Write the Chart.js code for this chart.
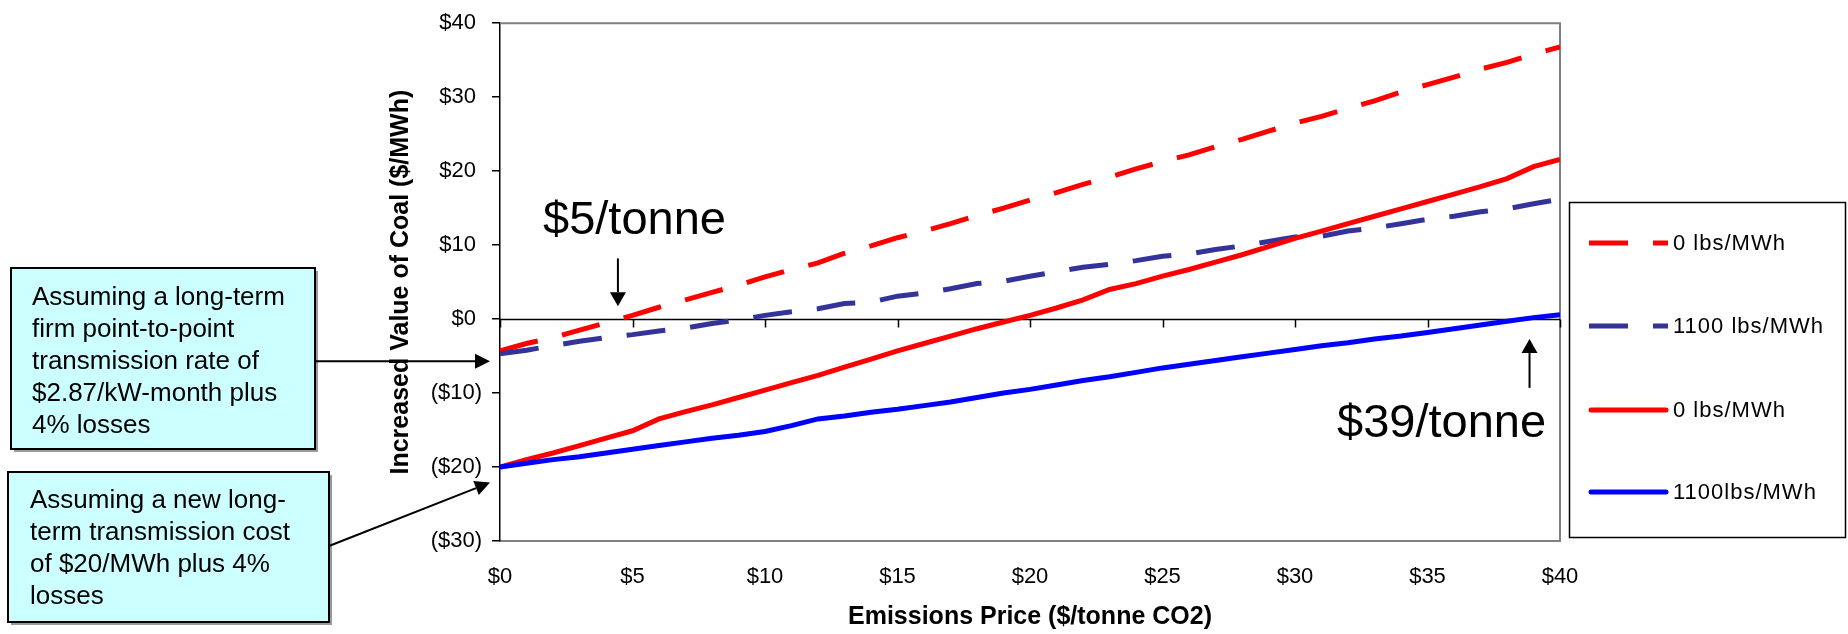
<!DOCTYPE html>
<html>
<head>
<meta charset="utf-8">
<script src="https://cdn.jsdelivr.net/npm/chart.js@4.4.1/dist/chart.umd.min.js"></script>
<style>
  html, body { margin: 0; padding: 0; background: #fff; }
  #wrap { width: 1848px; height: 634px; position: relative; }
</style>
</head>
<body>
<div id="wrap"><canvas id="chart"></canvas></div>
<script>
// emissions price ($/tonne CO2)
const prices = [0, 1, 2, 3, 4, 5, 6, 7, 8, 9, 10, 11, 12, 13, 14, 15, 16, 17, 18, 19, 20,
                21, 22, 23, 24, 25, 26, 27, 28, 29, 30, 31, 32, 33, 34, 35, 36, 37, 38, 39, 40];

// increased value of coal ($/MWh)
const redDashed = [-4.3, -3.3, -2.5, -1.5, -0.5, 0.5, 1.6, 2.6, 3.6, 4.6, 5.7, 6.7, 7.6, 8.9, 9.9, 11.0,
                   11.9, 12.9, 14.0, 15.0, 16.1, 17.1, 18.2, 19.2, 20.3, 21.3, 22.2, 23.3, 24.3, 25.4,
                   26.5, 27.4, 28.5, 29.5, 30.7, 31.7, 32.7, 33.8, 34.7, 35.8, 36.8];
const blueDashed = [-4.7, -4.2, -3.6, -3.0, -2.5, -2.1, -1.6, -1.2, -0.6, -0.1, 0.5, 1.0, 1.4, 2.1, 2.3, 3.1,
                    3.5, 4.1, 4.8, 5.1, 5.8, 6.4, 7.0, 7.4, 7.9, 8.5, 8.8, 9.4, 9.9, 10.5,
                    11.1, 11.2, 11.9, 12.3, 12.9, 13.5, 13.9, 14.5, 14.9, 15.6, 16.2];
const redSolid = [-20, -19.0, -18.1, -17.1, -16.1, -15.1, -13.5, -12.5, -11.6, -10.6, -9.6, -8.6, -7.6, -6.5,
                  -5.4, -4.3, -3.3, -2.3, -1.3, -0.4, 0.5, 1.5, 2.6, 4.0, 4.8, 5.8, 6.7, 7.7, 8.7, 9.8,
                  10.9, 11.9, 12.9, 13.9, 14.9, 15.9, 16.9, 17.9, 19.0, 20.6, 21.6];
const blueSolid = [-20, -19.5, -19.0, -18.6, -18.1, -17.6, -17.1, -16.6, -16.1, -15.7, -15.2, -14.4, -13.5,
                   -13.1, -12.6, -12.2, -11.7, -11.2, -10.6, -10.0, -9.5, -8.9, -8.3, -7.8, -7.2, -6.6,
                   -6.1, -5.6, -5.1, -4.6, -4.1, -3.6, -3.2, -2.7, -2.3, -1.8, -1.3, -0.8, -0.3, 0.2, 0.6];

const seriesNames = ['0 lbs/MWh', '1100 lbs/MWh', '0 lbs/MWh', '1100lbs/MWh'];

const FONT = '"Liberation Sans", Arial, sans-serif';
Chart.defaults.font.family = FONT;
Chart.defaults.color = '#000';

function points(values) {
    return prices.map((p, i) => ({ x: p, y: values[i] }));
}

function moneyLabel(v) {
    if (v < 0) return '($' + (-v) + ')';
    return '$' + v + ' ';
}

// frame, zero axis line with its tick marks
const framePlugin = {
    id: 'frame',
    beforeDatasetsDraw(chart) {
        const { ctx, chartArea: a, scales: { x, y } } = chart;
        ctx.save();
        ctx.strokeStyle = '#808080';
        ctx.lineWidth = 2;
        ctx.beginPath();
        ctx.moveTo(a.left, a.top);
        ctx.lineTo(a.right, a.top);
        ctx.lineTo(a.right, a.bottom);
        ctx.stroke();

        const y0 = Math.round(y.getPixelForValue(0)) + 0.5;
        ctx.strokeStyle = '#000';
        ctx.lineWidth = 1.5;
        ctx.beginPath();
        ctx.moveTo(a.left, y0);
        ctx.lineTo(a.right, y0);
        x.ticks.forEach(t => {
            const px = Math.round(x.getPixelForValue(t.value)) + 0.5;
            ctx.moveTo(px, y0);
            ctx.lineTo(px, y0 + 8);
        });
        ctx.stroke();
        ctx.restore();
    }
};

function arrow(ctx, x1, y1, x2, y2, len, half) {
    const ang = Math.atan2(y2 - y1, x2 - x1);
    const bx = x2 - len * Math.cos(ang), by = y2 - len * Math.sin(ang);
    ctx.beginPath();
    ctx.moveTo(x1, y1);
    ctx.lineTo(bx, by);
    ctx.lineWidth = 2;
    ctx.stroke();
    ctx.beginPath();
    ctx.moveTo(x2, y2);
    ctx.lineTo(bx + half * Math.sin(ang), by - half * Math.cos(ang));
    ctx.lineTo(bx - half * Math.sin(ang), by + half * Math.cos(ang));
    ctx.closePath();
    ctx.fill();
}

function noteBox(ctx, left, top, right, bottom, lines, textX, firstBase) {
    ctx.fillStyle = '#9a9a9a';
    ctx.fillRect(left + 3, top + 3, right - left, bottom - top);
    ctx.fillStyle = '#CCFFFF';
    ctx.fillRect(left, top, right - left, bottom - top);
    ctx.strokeStyle = '#000';
    ctx.lineWidth = 2;
    ctx.strokeRect(left, top, right - left, bottom - top);
    ctx.fillStyle = '#000';
    ctx.font = '26px ' + FONT;
    ctx.textAlign = 'left';
    ctx.textBaseline = 'alphabetic';
    lines.forEach((l, i) => ctx.fillText(l, textX, firstBase + i * 32));
}

// notes, arrows and legend
const notesPlugin = {
    id: 'notes',
    afterDraw(chart) {
        const { ctx, scales: { x, y } } = chart;
        ctx.save();
        ctx.strokeStyle = '#000';
        ctx.fillStyle = '#000';

        noteBox(ctx, 11, 268, 315, 449,
            ['Assuming a long-term', 'firm point-to-point', 'transmission rate of',
             '$2.87/kW-month plus', '4% losses'], 32, 305);
        noteBox(ctx, 8, 472, 329, 622,
            ['Assuming a new long-', 'term transmission cost', 'of $20/MWh plus 4%', 'losses'], 30, 508);

        ctx.fillStyle = '#000';
        ctx.strokeStyle = '#000';
        const tipX = x.getPixelForValue(0) - 10;
        arrow(ctx, 315, y.getPixelForValue(-5.7), tipX, y.getPixelForValue(-5.7), 15, 7.5);
        arrow(ctx, 329, 546, tipX, y.getPixelForValue(-22.1), 15, 7.5);

        const a5 = x.getPixelForValue(4.45);
        arrow(ctx, a5, y.getPixelForValue(8.2), a5, y.getPixelForValue(1.75), 14, 8);
        const a39 = x.getPixelForValue(38.85);
        arrow(ctx, a39, y.getPixelForValue(-9.3), a39, y.getPixelForValue(-2.7), 14, 8);

        ctx.font = '47px ' + FONT;
        ctx.textAlign = 'left';
        ctx.textBaseline = 'alphabetic';
        ctx.fillText('$5/tonne', 543, 234);
        ctx.fillText('$39/tonne', 1337, 437);

        // legend
        ctx.strokeStyle = '#000';
        ctx.lineWidth = 1.5;
        ctx.strokeRect(1569.5, 202.5, 276, 335);
        const rows = [243, 326, 410, 492];
        chart.data.datasets.forEach((ds, i) => {
            const ly = rows[i];
            ctx.save();
            ctx.strokeStyle = ds.borderColor;
            ctx.lineWidth = 5;
            ctx.setLineDash(ds.borderDash || []);
            ctx.lineCap = ds.borderDash ? 'butt' : 'round';
            ctx.beginPath();
            ctx.moveTo(ds.borderDash ? 1589 : 1591, ly);
            ctx.lineTo(ds.borderDash ? 1668 : 1666, ly);
            ctx.stroke();
            ctx.restore();
            ctx.fillStyle = '#000';
            ctx.font = '22px ' + FONT;
            ctx.letterSpacing = '1px';
            ctx.textBaseline = 'middle';
            ctx.fillText(seriesNames[i], 1673, ly + 1);
            ctx.letterSpacing = '0px';
        });
        ctx.restore();
    }
};

const lineStyle = { borderWidth: 5, pointRadius: 0, tension: 0, fill: false, borderCapStyle: 'butt' };

new Chart(document.getElementById('chart'), {
    type: 'line',
    data: {
        datasets: [
            { ...lineStyle, label: seriesNames[0], data: points(redDashed), borderColor: '#FF0000', borderDash: [39, 25], order: 3 },
            { ...lineStyle, label: seriesNames[1], data: points(blueDashed), borderColor: '#333399', borderDash: [39, 25], order: 2 },
            { ...lineStyle, label: seriesNames[2], data: points(redSolid), borderColor: '#FF0000', order: 1 },
            { ...lineStyle, label: seriesNames[3], data: points(blueSolid), borderColor: '#0000FF', order: 0 }
        ]
    },
    options: {
        responsive: true,
        maintainAspectRatio: false,
        animation: false,
        layout: { padding: { left: 380, right: 288, top: 22, bottom: 0 } },
        plugins: {
            legend: { display: false },
            tooltip: { enabled: false }
        },
        scales: {
            x: {
                type: 'linear',
                min: 0,
                max: 40,
                afterFit: s => { s.height = 93; },
                ticks: { stepSize: 5, padding: 23, font: { size: 22 }, color: '#000', callback: v => '$' + v },
                grid: { display: false, drawTicks: false },
                border: { display: true, color: '#808080', width: 2 },
                title: {
                    display: true,
                    text: 'Emissions Price ($/tonne CO2)',
                    font: { size: 25, weight: 'bold' },
                    color: '#000',
                    padding: 2
                }
            },
            y: {
                min: -30,
                max: 40,
                afterFit: s => { s.width = 120; },
                ticks: { stepSize: 10, padding: 10, font: { size: 22 }, color: '#000', callback: moneyLabel },
                grid: { drawOnChartArea: false, drawTicks: true, tickLength: 8, color: '#000', lineWidth: 1.5 },
                border: { display: true, color: '#000', width: 1.5 },
                title: {
                    display: true,
                    text: 'Increased Value of Coal ($/MWh)',
                    font: { size: 25, weight: 'bold' },
                    color: '#000',
                    padding: 6
                }
            }
        }
    },
    plugins: [framePlugin, notesPlugin]
});
</script>
</body>
</html>
